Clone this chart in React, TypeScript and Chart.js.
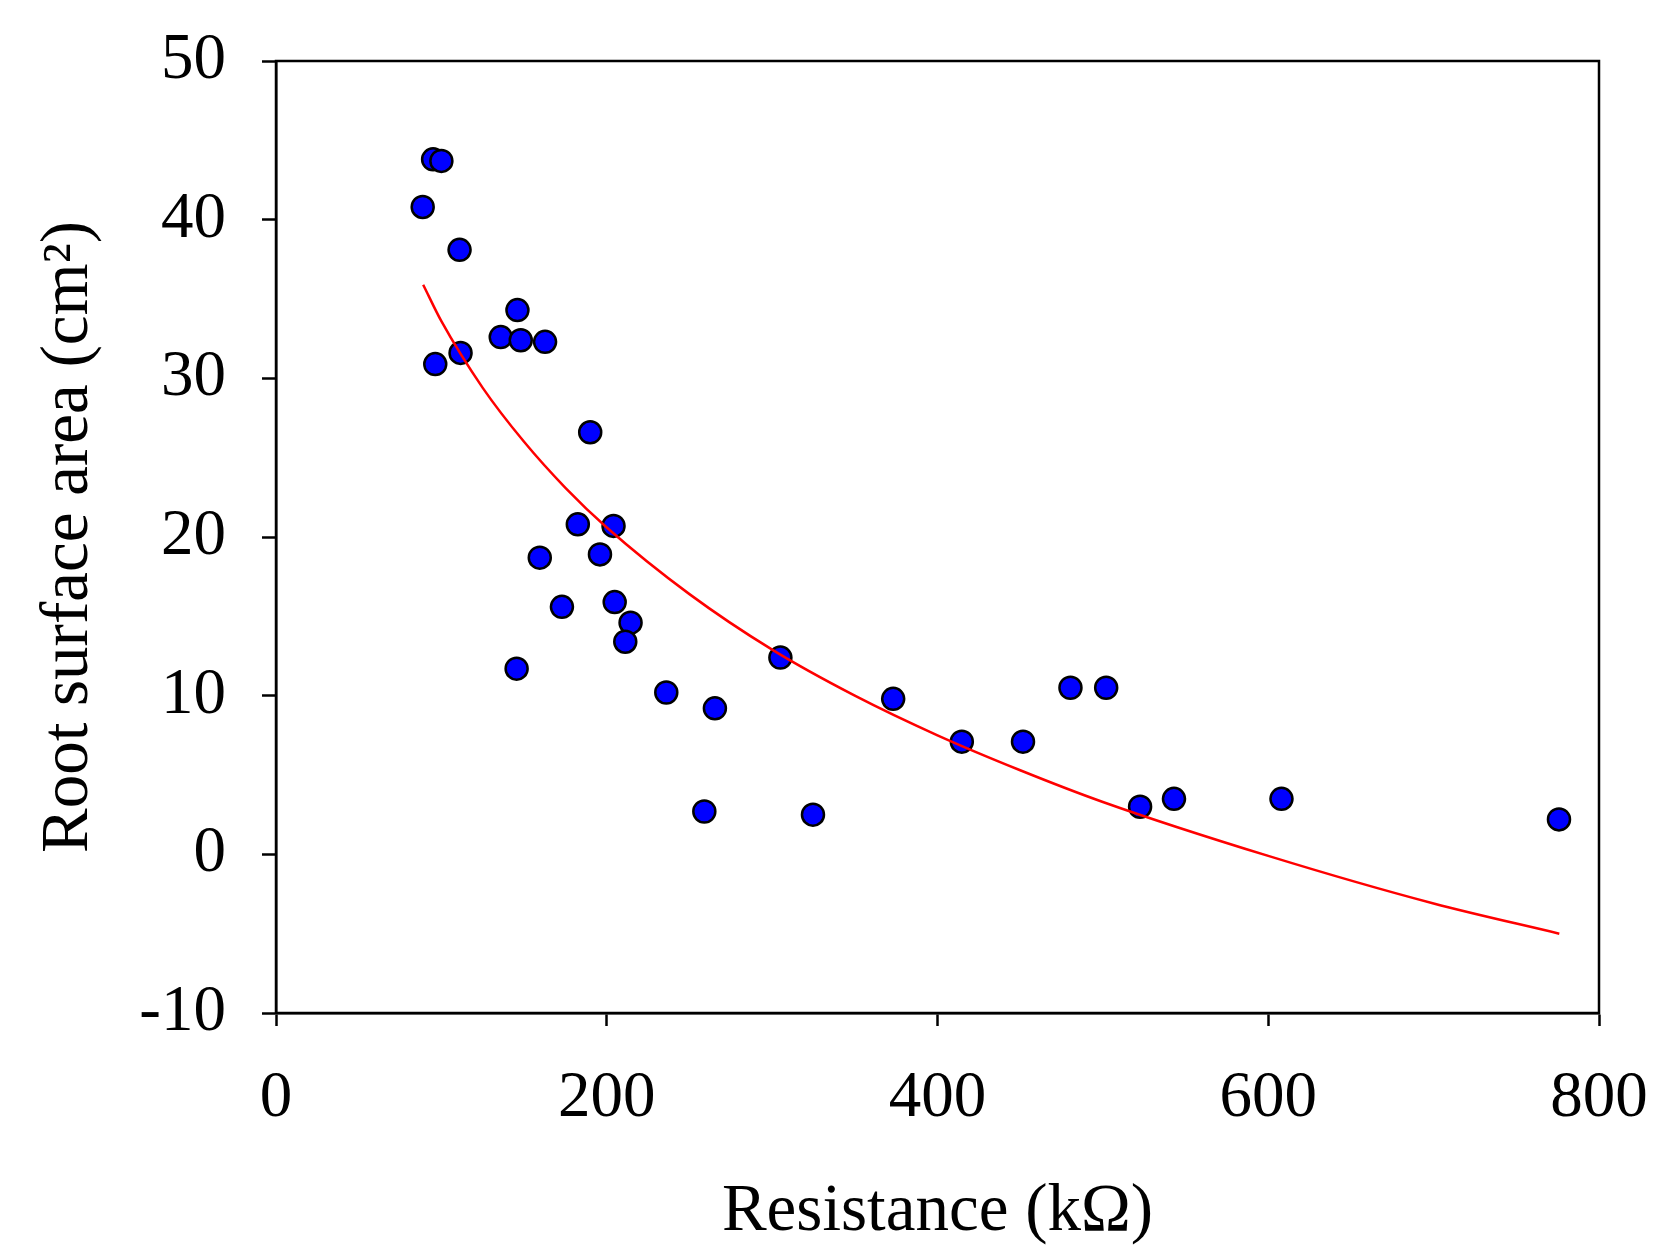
import React, { useEffect, useRef } from "react";
import { Chart, registerables } from "chart.js";

Chart.register(...registerables);

// Measured points: resistance (kΩ) vs root surface area (cm²)
const resistance: number[] = [
  88.7, 95, 100, 96.3, 111, 111.6, 135.9, 146, 148, 162.7,
  145.5, 159.5, 172.9, 182.5, 190, 195.9, 204.1, 204.8, 214.4, 211.2,
  236, 265.4, 259, 305, 324.7, 373.2, 414.7, 451.7, 480.4, 502,
  522.5, 543, 608, 775.8,
];
const rootArea: number[] = [
  40.8, 43.8, 43.7, 30.9, 38.1, 31.6, 32.6, 34.3, 32.4, 32.3,
  11.7, 18.7, 15.6, 20.8, 26.6, 18.9, 20.7, 15.9, 14.6, 13.4,
  10.2, 9.2, 2.7, 12.4, 2.5, 9.8, 7.1, 7.1, 10.5, 10.5,
  3.0, 3.5, 3.5, 2.2,
];

// Fitted curve
const fitX: number[] = [89, 100, 125, 150, 175, 200, 250, 300, 350, 400, 450, 500, 600, 700, 776];
const fitY: number[] = [35.9, 33.6, 29.4, 26.0, 23.1, 20.6, 16.4, 12.9, 10.0, 7.5, 5.3, 3.3, -0.1, -3.1, -5.0];

const xTicks: number[] = [0, 200, 400, 600, 800];
const yTicks: number[] = [-10, 0, 10, 20, 30, 40, 50];

const FONT = "'Liberation Serif', 'Times New Roman', serif";

const framePlugin = {
  id: "frame",
  afterDraw(chart: any) {
    const { ctx, chartArea } = chart;
    ctx.save();
    ctx.strokeStyle = "#000";
    ctx.lineWidth = 2.5;
    ctx.strokeRect(chartArea.left, chartArea.top, chartArea.right - chartArea.left, chartArea.bottom - chartArea.top);
    ctx.restore();
  },
};

export default function App() {
  const ref = useRef<HTMLCanvasElement | null>(null);

  useEffect(() => {
    if (!ref.current) return;
    const scatter = resistance.map((x, i) => ({ x, y: rootArea[i] }));
    const fit = fitX.map((x, i) => ({ x, y: fitY[i] }));
    const chart = new Chart(ref.current, {
      type: "scatter",
      data: {
        datasets: [
          {
            type: "line",
            data: fit,
            borderColor: "#ff0000",
            borderWidth: 2.5,
            pointRadius: 0,
            fill: false,
            cubicInterpolationMode: "monotone",
            order: 0,
          } as any,
          {
            data: scatter,
            backgroundColor: "#0000ff",
            borderColor: "#000000",
            borderWidth: 2.5,
            pointRadius: 11,
            order: 1,
          },
        ],
      },
      options: {
        responsive: false,
        animation: false,
        devicePixelRatio: 1,
        layout: { padding: { top: 61, right: 55, left: 0, bottom: 0 } },
        plugins: { legend: { display: false }, tooltip: { enabled: false } },
        scales: {
          x: {
            type: "linear",
            min: 0,
            max: 800,
            afterFit: (s: any) => {
              s.height = 233;
              s.paddingLeft = 0;
              s.paddingRight = 0;
              s.paddingTop = 0;
              s.paddingBottom = 0;
            },
            afterBuildTicks: (s: any) => { s.ticks = xTicks.map((v) => ({ value: v })); },
            grid: { display: true, drawOnChartArea: false, drawTicks: true, tickLength: 13, tickColor: "#000", tickWidth: 2.5 },
            border: { display: true, color: "#000", width: 2.5 },
            ticks: { color: "#000", padding: 40, font: { family: FONT, size: 65, lineHeight: 1 } },
            title: {
              display: true,
              text: "Resistance (kΩ)",
              color: "#000",
              font: { family: FONT, size: 67, lineHeight: 1 },
              padding: { top: 0, bottom: 0 },
            },
          },
          y: {
            type: "linear",
            min: -10,
            max: 50,
            afterFit: (s: any) => {
              s.width = 276;
              s.paddingLeft = 0;
              s.paddingRight = 0;
              s.paddingTop = 0;
              s.paddingBottom = 0;
            },
            afterBuildTicks: (s: any) => { s.ticks = yTicks.map((v) => ({ value: v })); },
            grid: { display: true, drawOnChartArea: false, drawTicks: true, tickLength: 14, tickColor: "#000", tickWidth: 2.5 },
            border: { display: true, color: "#000", width: 2.5 },
            ticks: { color: "#000", padding: 36, font: { family: FONT, size: 65, lineHeight: 1 } },
            title: {
              display: true,
              text: "Root surface area (cm²)",
              color: "#000",
              font: { family: FONT, size: 67, lineHeight: 1 },
              padding: { top: 36, bottom: 0 },
            },
          },
        },
      },
      plugins: [framePlugin],
    });
    return () => chart.destroy();
  }, []);

  return (
    <div style={{ position: "absolute", left: 0, top: 0, width: 1654, height: 1246, background: "#fff" }}>
      <canvas ref={ref} width={1654} height={1246} style={{ display: "block", width: 1654, height: 1246 }} />
    </div>
  );
}
